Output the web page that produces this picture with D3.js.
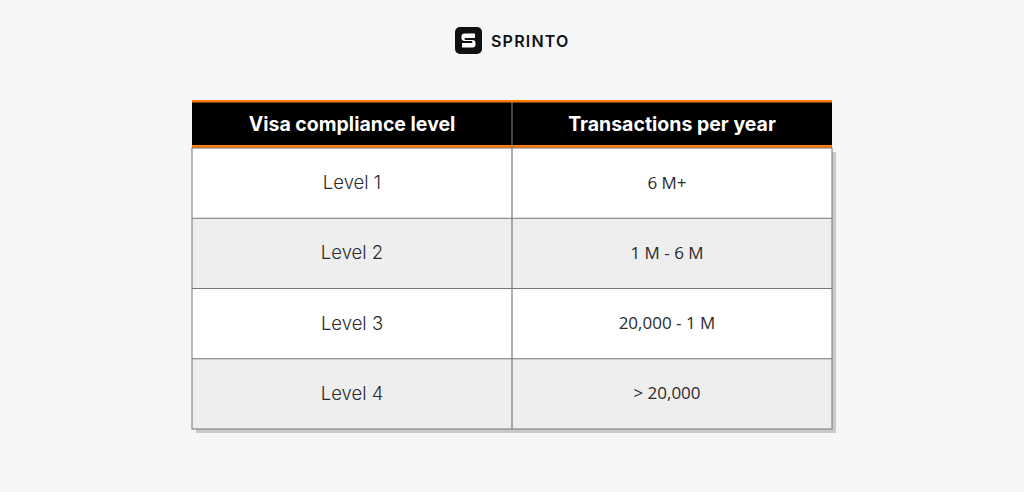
<!DOCTYPE html>
<html>
<head>
<meta charset="utf-8">
<script src="https://cdn.jsdelivr.net/npm/d3@7"></script>
<style>
  body { margin: 0; background: #f5f6f8; }
  svg { display: block; }
</style>
</head>
<body>
<svg id="chart" width="1024" height="492"></svg>
<script>
var headers = ["Visa compliance level", "Transactions per year"];
var levels = ["Level 1", "Level 2", "Level 3", "Level 4"];
var transactions = ["6 M+", "1 M - 6 M", "20,000 - 1 M", "> 20,000"];

var svg = d3.select("#chart");
var W = 1024, H = 492;

svg.append("rect").attr("width", W).attr("height", H).attr("fill", "#f5f6f8");

// logo
var logo = svg.append("g").attr("transform", "translate(455,27)");
logo.append("rect")
    .attr("width", 27).attr("height", 27).attr("rx", 5)
    .attr("fill", "#111");
logo.append("path")
    .attr("d", "M20,6.5 H9.5 a3,3 0 0 0 -3,3 V11 a3,3 0 0 0 3,3 H16.5 a1,1 0 0 1 0,2 H7 V20.5 H17.5 a3,3 0 0 0 3,-3 V16 a3,3 0 0 0 -3,-3 H10.5 a1,1 0 0 1 0,-2 H20 Z")
    .attr("fill", "#fff");
svg.append("text")
    .attr("x", 491).attr("y", 47)
    .attr("font-family", "Inter, sans-serif")
    .attr("font-weight", 600)
    .attr("font-size", 16)
    .attr("letter-spacing", 1.2)
    .attr("fill", "#111")
    .text("SPRINTO");

// table layout
var left = 192, right = 832, headTop = 100, headBottom = 148, bottom = 429;

var x = d3.scaleBand()
    .domain(d3.range(headers.length))
    .range([left, right]);

var y = d3.scaleBand()
    .domain(d3.range(levels.length))
    .range([headBottom, bottom]);

var rows = levels.map(function(d, i) { return [d, transactions[i]]; });

// shadow
svg.append("rect")
    .attr("x", left + 4).attr("y", headBottom + 4)
    .attr("width", right - left).attr("height", bottom - headBottom)
    .attr("fill", "#c9c9cb");

// header
svg.append("rect")
    .attr("x", left).attr("y", headTop)
    .attr("width", right - left).attr("height", headBottom - headTop)
    .attr("fill", "#000");
svg.append("rect")
    .attr("x", left).attr("y", headTop)
    .attr("width", right - left).attr("height", 2.5)
    .attr("fill", "#ff7a00");
svg.append("rect")
    .attr("x", left).attr("y", headBottom - 3)
    .attr("width", right - left).attr("height", 3)
    .attr("fill", "#ff7a00");

svg.selectAll(".head")
    .data(headers)
    .enter()
    .append("text")
    .attr("class", "head")
    .attr("x", function(d, i) { return x(i) + x.bandwidth() / 2; })
    .attr("y", (headTop + headBottom) / 2 + 2)
    .attr("text-anchor", "middle")
    .attr("dominant-baseline", "middle")
    .attr("font-family", "Inter, sans-serif")
    .attr("font-weight", 700)
    .attr("font-size", 19.5)
    .attr("fill", "#fff")
    .text(function(d) { return d; });

// body rows
var rowG = svg.selectAll(".row")
    .data(rows)
    .enter()
    .append("g")
    .attr("class", "row");

rowG.append("rect")
    .attr("x", left)
    .attr("y", function(d, i) { return y(i); })
    .attr("width", right - left)
    .attr("height", y.bandwidth())
    .attr("fill", function(d, i) { return i % 2 ? "#eeeeee" : "#ffffff"; });

rowG.selectAll("text")
    .data(function(d) { return d; })
    .enter()
    .append("text")
    .attr("x", function(d, j) { return x(j) + x.bandwidth() / 2 - (j === 0 ? 0 : 5); })
    .attr("y", function(d, j) {
        var i = rows.indexOf(d3.select(this.parentNode).datum());
        return y(i) + y.bandwidth() / 2 + 1;
    })
    .attr("text-anchor", "middle")
    .attr("dominant-baseline", "middle")
    .attr("font-family", function(d, j) { return j === 0 ? "Inter, sans-serif" : "'Open Sans', sans-serif"; })
    .attr("font-weight", function(d, j) { return j === 0 ? 300 : 400; })
    .attr("font-size", function(d, j) { return j === 0 ? 18.5 : 17; })
    .attr("fill", "#2b2b2b")
    .text(function(d) { return d; });

// grid lines
svg.selectAll(".hline")
    .data(d3.range(1, levels.length))
    .enter()
    .append("line")
    .attr("x1", left).attr("x2", right)
    .attr("y1", function(d) { return y(d); })
    .attr("y2", function(d) { return y(d); })
    .attr("stroke", "#777")
    .attr("stroke-width", 1);

svg.append("line")
    .attr("x1", x(1)).attr("x2", x(1))
    .attr("y1", headTop + 2).attr("y2", bottom)
    .attr("stroke", "#777")
    .attr("stroke-width", 1.2);

svg.append("rect")
    .attr("x", left).attr("y", headBottom)
    .attr("width", right - left).attr("height", bottom - headBottom)
    .attr("fill", "none")
    .attr("stroke", "#777")
    .attr("stroke-width", 1);
</script>
</body>
</html>
